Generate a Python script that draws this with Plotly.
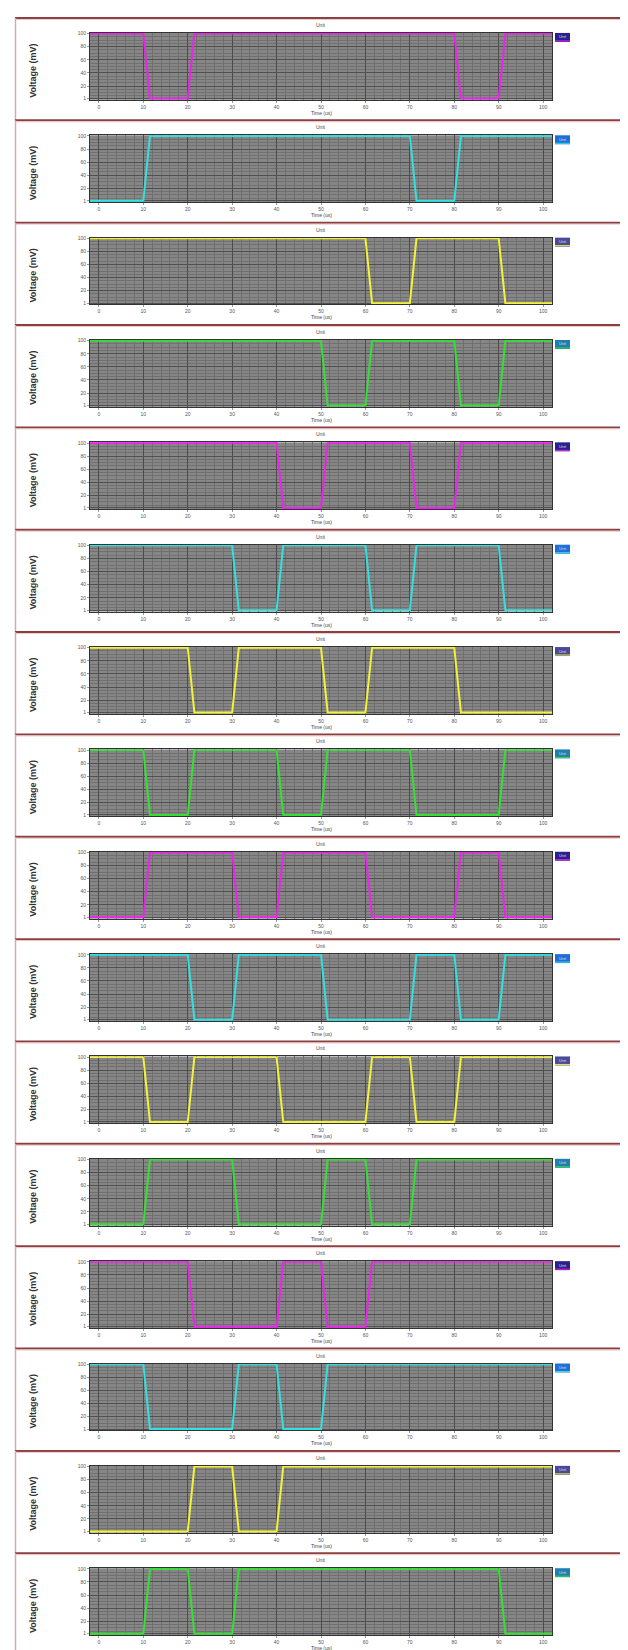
import plotly.graph_objects as go

# ---- data ----
x_ticks = [0, 10, 20, 30, 40, 50, 60, 70, 80, 90, 100]
y_ticks = [1, 20, 40, 60, 80, 100]
y_ticktext = ["1", "20", "40", "60", "80", "100"]
bit_edges = [0, 10, 20, 30, 40, 50, 60, 70, 80, 90, 100]
high_level = 100
low_level = 1
ramp = 1.5

panel_colors = ["#ee22ee", "#33e0e0", "#f2f23a", "#33e033"] * 4
legend_bg = ["#2a2090", "#1f6fd8", "#4a4a9a", "#1f7fb0"] * 4

bits_1 = [1, 0, 1, 1, 1, 1, 1, 1, 0, 1]
bits_2 = [0, 1, 1, 1, 1, 1, 1, 0, 1, 1]
bits_3 = [1, 1, 1, 1, 1, 1, 0, 1, 1, 0]
bits_4 = [1, 1, 1, 1, 1, 0, 1, 1, 0, 1]
bits_5 = [1, 1, 1, 1, 0, 1, 1, 0, 1, 1]
bits_6 = [1, 1, 1, 0, 1, 1, 0, 1, 1, 0]
bits_7 = [1, 1, 0, 1, 1, 0, 1, 1, 0, 0]
bits_8 = [1, 0, 1, 1, 0, 1, 1, 0, 0, 1]
bits_9 = [0, 1, 1, 0, 1, 1, 0, 0, 1, 0]
bits_10 = [1, 1, 0, 1, 1, 0, 0, 1, 0, 1]
bits_11 = [1, 0, 1, 1, 0, 0, 1, 0, 1, 1]
bits_12 = [0, 1, 1, 0, 0, 1, 0, 1, 1, 1]
bits_13 = [1, 1, 0, 0, 1, 0, 1, 1, 1, 1]
bits_14 = [1, 0, 0, 1, 0, 1, 1, 1, 1, 1]
bits_15 = [0, 0, 1, 0, 1, 1, 1, 1, 1, 1]
bits_16 = [0, 1, 0, 1, 1, 1, 1, 1, 1, 0]
all_bits = [bits_1, bits_2, bits_3, bits_4, bits_5, bits_6, bits_7, bits_8,
            bits_9, bits_10, bits_11, bits_12, bits_13, bits_14, bits_15, bits_16]

# ---- layout geometry (pixels) ----
W, H = 628, 1650
X_RANGE = [-2, 102]
Y_RANGE = [-1, 101]
plot_l, plot_r = 82, 544
panel_h = 102.6
panel_top0 = 7


def py(p):
    return 1 - p / H


def px(p):
    return p / W


def waveform(bits):
    xs, ys = [X_RANGE[0]], []
    lvl = lambda b: high_level if b else low_level
    ys.append(lvl(bits[0]))
    for i in range(1, len(bits)):
        e = bit_edges[i]
        if bits[i] != bits[i - 1]:
            xs += [e, e + ramp]
            ys += [lvl(bits[i - 1]), lvl(bits[i])]
    xs.append(X_RANGE[1])
    ys.append(lvl(bits[-1]))
    return xs, ys


fig = go.Figure()
layout = dict(width=W, height=H, margin=dict(l=0, r=0, t=0, b=0),
              paper_bgcolor="white", plot_bgcolor="#868686", showlegend=False)
shapes, annotations = [], []

for k, bits in enumerate(all_bits):
    T = panel_top0 + panel_h * k
    n = "" if k == 0 else str(k + 1)
    xs, ys = waveform(bits)
    fig.add_trace(go.Scatter(x=xs, y=ys, mode="lines",
                             line=dict(color=panel_colors[k], width=2),
                             xaxis="x" + n, yaxis="y" + n, name="Unit"))
    layout["xaxis" + n] = dict(
        domain=[px(plot_l), px(plot_r)], anchor="y" + n, range=X_RANGE,
        tickvals=x_ticks, ticktext=[str(v) for v in x_ticks],
        tickfont=dict(size=5, color="#555555", family="Liberation Sans"),
        ticks="outside", ticklen=2, tickcolor="#999999",
        showgrid=True, gridcolor="#4c4c4c", gridwidth=1,
        minor=dict(dtick=2, showgrid=True, gridcolor="#707070", gridwidth=1),
        zeroline=False, showline=True, linecolor="#333333", mirror=True,
        fixedrange=True)
    layout["yaxis" + n] = dict(
        domain=[py(T + 82), py(T + 15)], anchor="x" + n, range=Y_RANGE,
        tickvals=y_ticks, ticktext=y_ticktext,
        tickfont=dict(size=5, color="#555555", family="Liberation Sans"),
        ticks="outside", ticklen=2, tickcolor="#999999",
        showgrid=True, gridcolor="#505050", gridwidth=1,
        minor=dict(dtick=5, showgrid=True, gridcolor="#707070", gridwidth=1),
        zeroline=False, showline=True, linecolor="#333333", mirror=True,
        fixedrange=True)
    # panel border
    shapes.append(dict(type="line", xref="paper", yref="paper",
                       x0=px(7), x1=1, y0=py(T), y1=py(T),
                       line=dict(color="#8a4040", width=2)))
    shapes.append(dict(type="line", xref="paper", yref="paper",
                       x0=px(7), x1=1, y0=py(T + 1.5), y1=py(T + 1.5),
                       line=dict(color="#f0c8c8", width=1)))
    shapes.append(dict(type="line", xref="paper", yref="paper",
                       x0=px(7.5), x1=px(7.5), y0=py(T), y1=py(min(T + panel_h, H)),
                       line=dict(color="#d8a8a8", width=1.5)))
    # title
    annotations.append(dict(text="Unit", xref="paper", yref="paper",
                            x=px((plot_l + plot_r) / 2), y=py(T + 7),
                            showarrow=False, xanchor="center", yanchor="middle",
                            font=dict(size=5, color="#444444", family="Liberation Sans")))
    annotations.append(dict(text="Time (us)", xref="paper", yref="paper",
                            x=px((plot_l + plot_r) / 2), y=py(T + 95),
                            showarrow=False, xanchor="center", yanchor="middle",
                            font=dict(size=5, color="#444444", family="Liberation Sans")))
    annotations.append(dict(text="<b>Voltage (mV)</b>", xref="paper", yref="paper",
                            x=px(25), y=py(T + 53), textangle=-90,
                            showarrow=False, xanchor="center", yanchor="middle",
                            font=dict(size=9, color="#333333", family="Liberation Sans")))
    # legend box
    shapes.append(dict(type="rect", xref="paper", yref="paper",
                       x0=px(547), x1=px(562), y0=py(T + 24), y1=py(T + 15),
                       fillcolor=legend_bg[k], line=dict(width=0)))
    shapes.append(dict(type="line", xref="paper", yref="paper",
                       x0=px(547), x1=px(562), y0=py(T + 23), y1=py(T + 23),
                       line=dict(color=panel_colors[k], width=1)))
    annotations.append(dict(text="Unit", xref="paper", yref="paper",
                            x=px(554.5), y=py(T + 19), showarrow=False,
                            xanchor="center", yanchor="middle",
                            font=dict(size=4, color="#dddddd", family="Liberation Sans")))

layout["shapes"] = shapes
layout["annotations"] = annotations
fig.update_layout(**layout)
fig.write_html("out.html")
